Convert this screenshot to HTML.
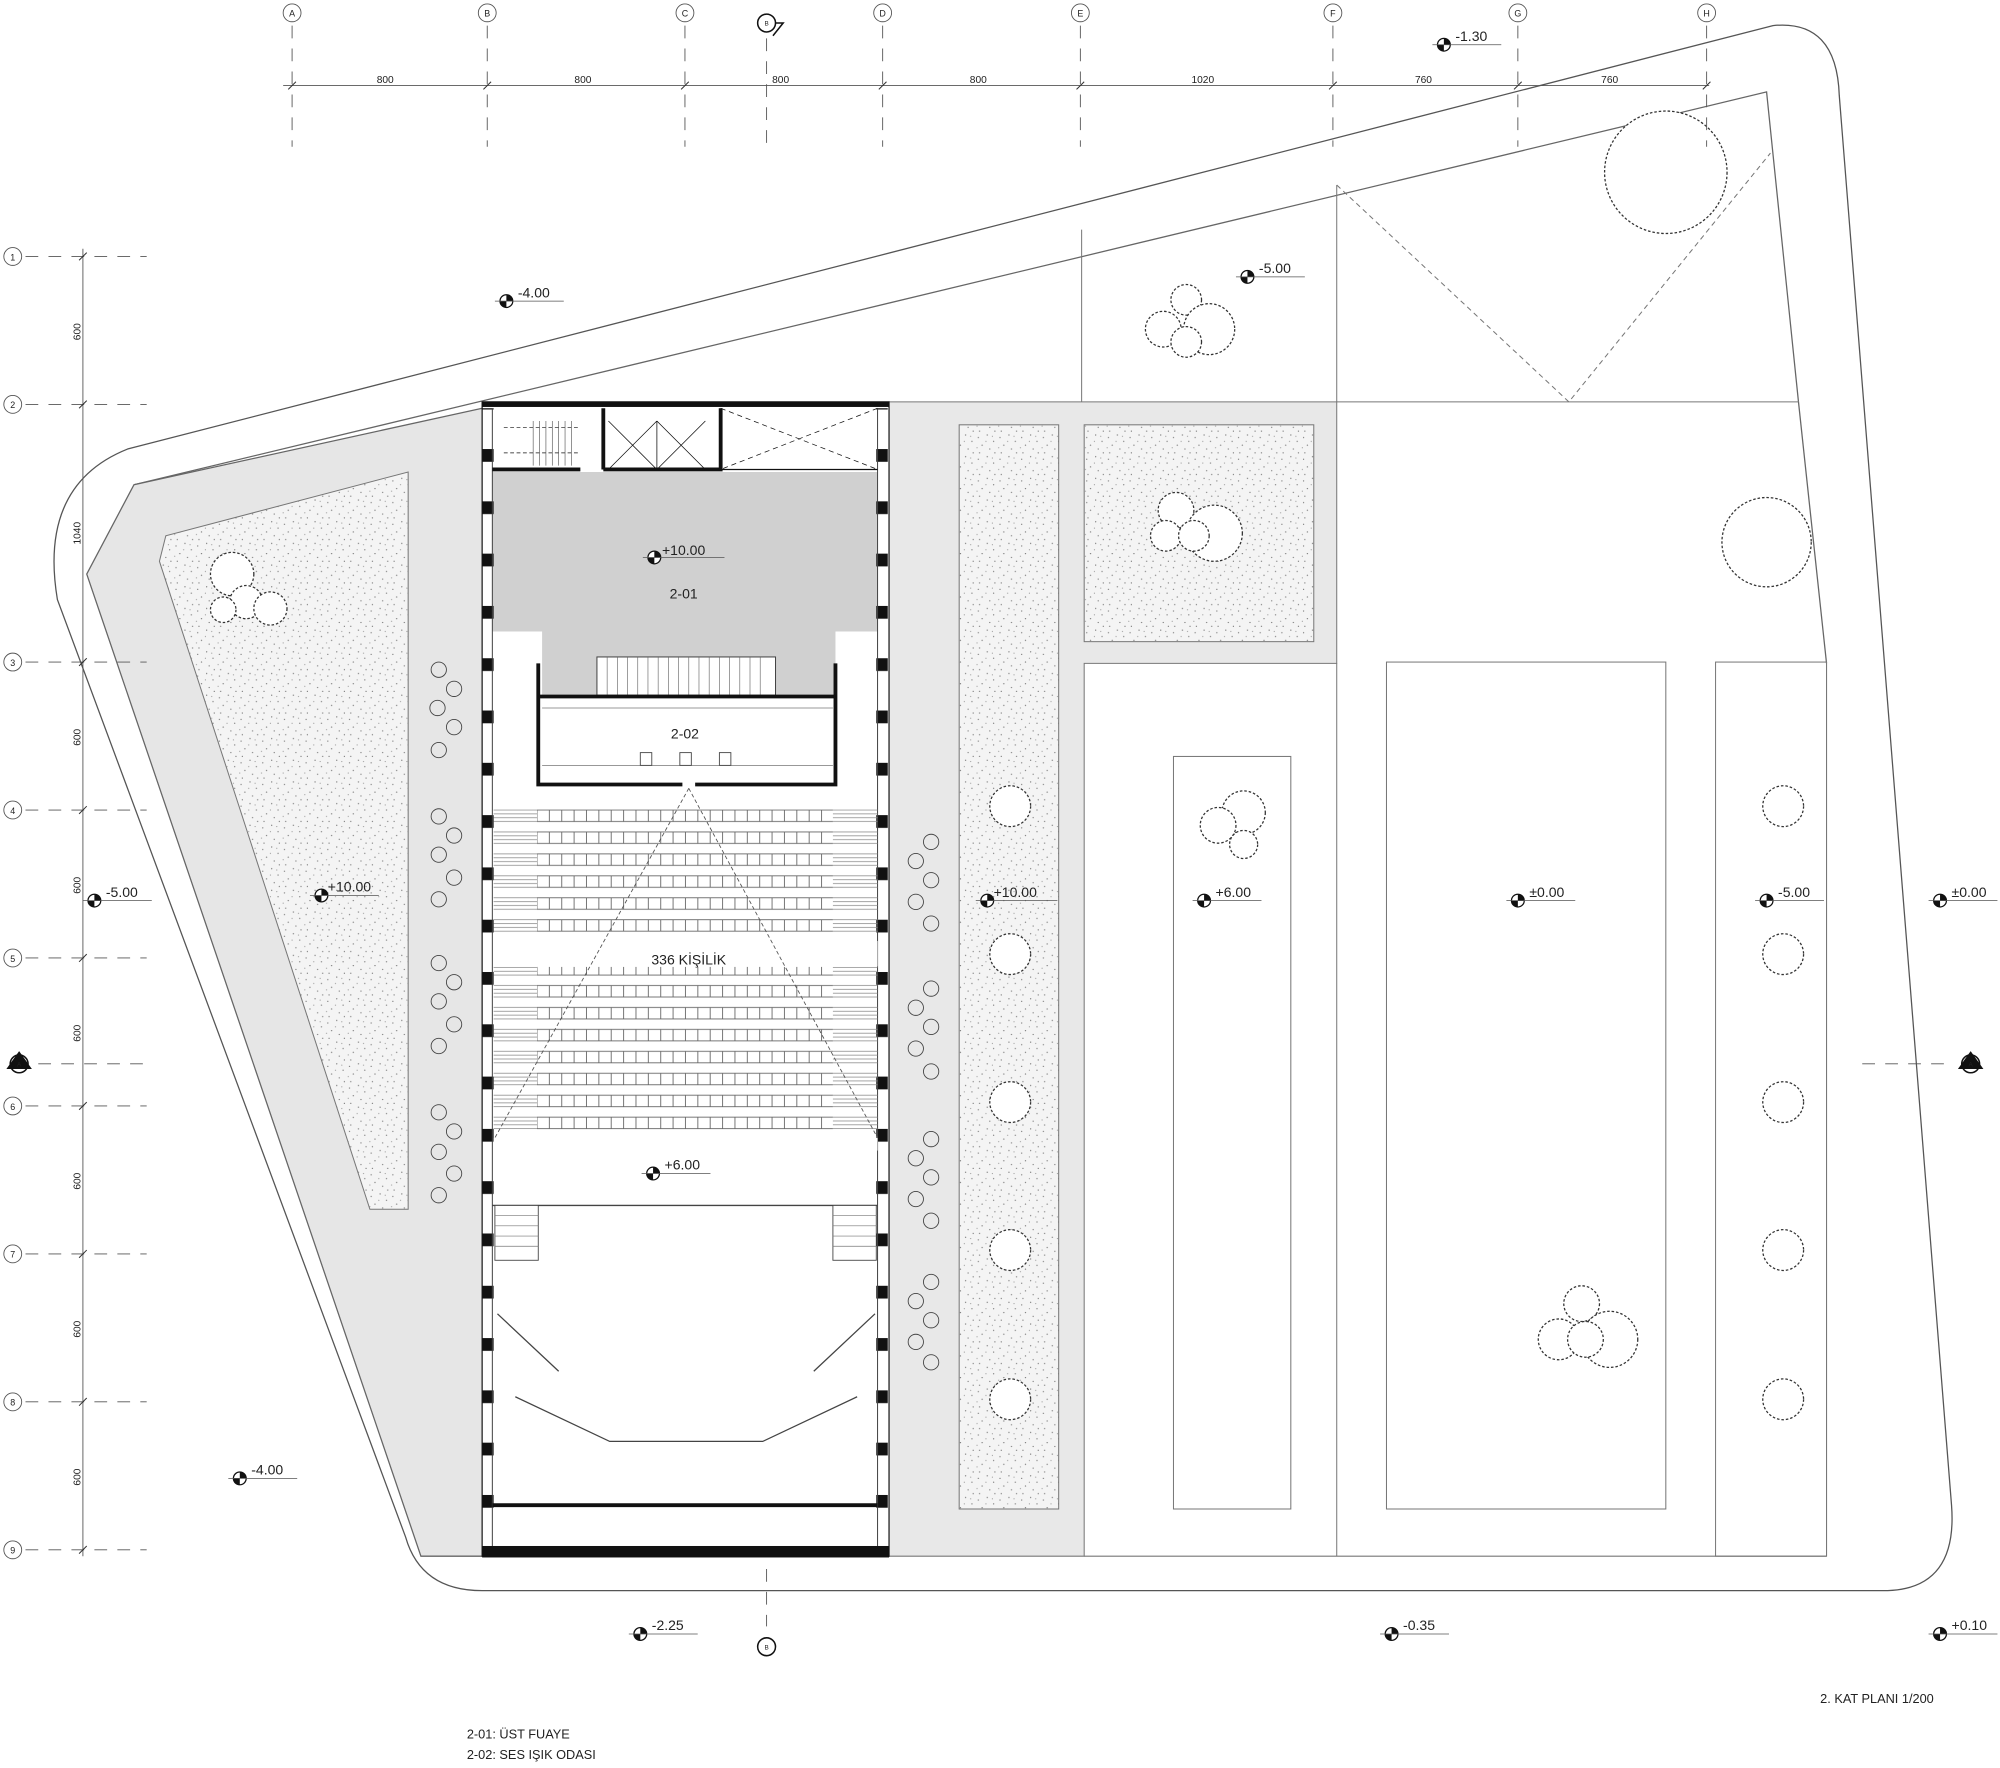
<!DOCTYPE html>
<html><head><meta charset="utf-8"><style>
html,body{margin:0;padding:0;background:#fff}
svg{display:block}
text{font-family:"Liberation Sans",sans-serif;fill:#222}
</style></head><body>
<svg width="2000" height="1768" viewBox="0 0 1568 1386" xmlns="http://www.w3.org/2000/svg">
<defs>
<pattern id="st" width="17" height="17" patternUnits="userSpaceOnUse">
<rect width="17" height="17" fill="#f4f4f4"/>
<g fill="#777"><circle cx="2" cy="3" r=".5"/><circle cx="9" cy="1" r=".5"/><circle cx="14" cy="6" r=".5"/><circle cx="5" cy="9" r=".5"/><circle cx="11" cy="12" r=".5"/><circle cx="3" cy="15" r=".5"/><circle cx="15" cy="15" r=".5"/><circle cx="8" cy="6" r=".4"/><circle cx="13" cy="2" r=".4"/><circle cx="1" cy="11" r=".4"/></g>
</pattern>
<pattern id="pil" width="10" height="41" patternUnits="userSpaceOnUse" x="0" y="24"><rect x="0" y="0" width="10" height="10" fill="#111"/></pattern>
<pattern id="seatg" width="9.7" height="17.2" patternUnits="userSpaceOnUse" x="421" y="634.5"><rect x="0" y="0.5" width="9.7" height="9" fill="none" stroke="#666" stroke-width=".7"/></pattern>
<pattern id="seatl" width="10" height="17.2" patternUnits="userSpaceOnUse" y="634.5"><g stroke="#888" stroke-width=".6"><line x1="0" y1="0.5" x2="10" y2="0.5"/><line x1="0" y1="3.5" x2="10" y2="3.5"/><line x1="0" y1="6.5" x2="10" y2="6.5"/><line x1="0" y1="9.5" x2="10" y2="9.5"/></g></pattern>
</defs>

<!-- site outline -->
<path d="M100,352 L1390,20 Q1440,15 1442,75 L1530,1180 Q1535,1245 1480,1247 L378,1247 Q330,1247 318,1205 L45,470 Q30,380 100,352 Z" fill="none" stroke="#555" stroke-width="1"/>
<path d="M105,380 L1385,72 L1410,315" fill="none" stroke="#666" stroke-width="1"/>
<line x1="1410" y1="315" x2="1432" y2="520" stroke="#666"/>

<!-- left gray region -->
<path d="M105,380 L378,320 L378,1220 L330,1220 L68,450 Z" fill="#e6e6e6" stroke="#666" stroke-width="1"/>
<path d="M125,440 L130,420 L320,370 L320,948 L290,948 Z" fill="url(#st)" stroke="#777" stroke-width=".8"/>

<!-- gray strip right of building -->
<path d="M697,315 L1048,315 L1048,520 L850,520 L850,1220 L697,1220 Z" fill="#e8e8e8" stroke="#777" stroke-width=".8"/>
<rect x="752" y="333" width="78" height="850" fill="url(#st)" stroke="#777" stroke-width=".8"/>
<rect x="850" y="333" width="180" height="170" fill="url(#st)" stroke="#777" stroke-width=".8"/>

<!-- right areas -->
<g fill="none" stroke="#777" stroke-width=".8">
<line x1="1048" y1="315" x2="1410" y2="315"/>
<line x1="848" y1="180" x2="848" y2="315"/>
<line x1="1048" y1="145" x2="1048" y2="315"/>
<line x1="1048" y1="520" x2="1048" y2="1220"/>
<line x1="1432" y1="520" x2="1432" y2="1220"/>
<rect x="920" y="593" width="92" height="590"/>
<rect x="1087" y="519" width="219" height="664"/>
<rect x="1345" y="519" width="87" height="701"/>
<line x1="850" y1="1220" x2="1432" y2="1220"/>
<path d="M1048,145 L1230,315 L1388,120" stroke-dasharray="4,3"/>
</g>

<!-- building -->
<rect x="378" y="315" width="319" height="905" fill="#fff" stroke="#222" stroke-width="1"/>
<path d="M386,370 L688,370 L688,495 L655,495 L655,545 L425,545 L425,495 L386,495 Z" fill="#d0d0d0"/>
<rect x="378" y="315" width="319" height="4" fill="#111"/>
<rect x="378" y="1212" width="319" height="9" fill="#111"/>
<rect x="378" y="320" width="9" height="890" fill="url(#pil)"/>
<rect x="687" y="320" width="9" height="890" fill="url(#pil)"/>
<line x1="386" y1="320" x2="386" y2="1212" stroke="#444" stroke-width=".8"/>
<line x1="688" y1="320" x2="688" y2="1212" stroke="#444" stroke-width=".8"/>
<!-- top rooms -->
<g stroke="#111" fill="none">
<path d="M386,368 L455,368 M473,368 L565,368 L565,320 M473,368 L473,320" stroke-width="3"/>
<line x1="565" y1="368" x2="688" y2="368" stroke-width="1"/>
<path d="M477,330 L515,368 M515,330 L477,368 M515,330 L553,368 M553,330 L515,368 M515,330 L515,368" stroke-width=".6"/>
<path d="M565,320 L688,368 M688,320 L565,368" stroke-width=".6" stroke-dasharray="4,3"/>
<path d="M395,335 L455,335 M395,355 L455,355" stroke-width=".5" stroke-dasharray="3,2"/>
</g>
<g stroke="#555" stroke-width=".5">
<line x1="418" y1="330" x2="418" y2="365"/><line x1="423" y1="330" x2="423" y2="365"/><line x1="428" y1="330" x2="428" y2="365"/><line x1="433" y1="330" x2="433" y2="365"/><line x1="438" y1="330" x2="438" y2="365"/><line x1="443" y1="330" x2="443" y2="365"/><line x1="448" y1="330" x2="448" y2="365"/>
</g>
<!-- stairs in foyer -->
<rect x="468" y="515" width="140" height="30" fill="#fff" stroke="#444" stroke-width=".8"/>
<g stroke="#666" stroke-width=".5">
<line x1="476" y1="515" x2="476" y2="545"/><line x1="484" y1="515" x2="484" y2="545"/><line x1="492" y1="515" x2="492" y2="545"/><line x1="500" y1="515" x2="500" y2="545"/><line x1="508" y1="515" x2="508" y2="545"/><line x1="516" y1="515" x2="516" y2="545"/><line x1="524" y1="515" x2="524" y2="545"/><line x1="532" y1="515" x2="532" y2="545"/><line x1="540" y1="515" x2="540" y2="545"/><line x1="548" y1="515" x2="548" y2="545"/><line x1="556" y1="515" x2="556" y2="545"/><line x1="564" y1="515" x2="564" y2="545"/><line x1="572" y1="515" x2="572" y2="545"/><line x1="580" y1="515" x2="580" y2="545"/><line x1="588" y1="515" x2="588" y2="545"/><line x1="596" y1="515" x2="596" y2="545"/>
</g>
<!-- 2-02 room -->
<path d="M422,520 L422,615 L535,615 M545,615 L655,615 L655,520" stroke="#111" stroke-width="3" fill="none"/>
<line x1="422" y1="546" x2="655" y2="546" stroke="#111" stroke-width="3"/>
<line x1="425" y1="555" x2="653" y2="555" stroke="#777" stroke-width=".6"/>
<line x1="425" y1="600" x2="653" y2="600" stroke="#777" stroke-width=".6"/>
<g fill="#fff" stroke="#444" stroke-width=".7"><rect x="502" y="590" width="9" height="10"/><rect x="533" y="590" width="9" height="10"/><rect x="564" y="590" width="9" height="10"/></g>
<!-- seating -->
<rect x="421" y="634.5" width="232" height="103" fill="url(#seatg)"/>
<rect x="387" y="634.5" width="34" height="103" fill="url(#seatl)"/>
<rect x="653" y="634.5" width="35" height="103" fill="url(#seatl)"/>
<rect x="421" y="737.7" width="232" height="20" fill="#fff"/>
<rect x="387" y="737.7" width="301" height="20" fill="#fff"/>
<rect x="421" y="758" width="232" height="138" fill="url(#seatg)"/>
<rect x="387" y="758" width="34" height="138" fill="url(#seatl)"/>
<rect x="653" y="758" width="35" height="138" fill="url(#seatl)"/>
<rect x="387" y="892" width="301" height="10" fill="#fff"/>
<path d="M540,618 L388,892 M540,618 L688,892" stroke="#555" stroke-width=".7" stroke-dasharray="3,2" fill="none"/>
<!-- stage -->
<line x1="386" y1="945" x2="688" y2="945" stroke="#444" stroke-width="1"/>
<rect x="388" y="945" width="34" height="43" fill="#fff" stroke="#444" stroke-width=".7"/>
<rect x="653" y="945" width="34" height="43" fill="#fff" stroke="#444" stroke-width=".7"/>
<g stroke="#777" stroke-width=".5">
<line x1="388" y1="953" x2="422" y2="953"/><line x1="388" y1="961" x2="422" y2="961"/><line x1="388" y1="969" x2="422" y2="969"/><line x1="388" y1="977" x2="422" y2="977"/>
<line x1="653" y1="953" x2="687" y2="953"/><line x1="653" y1="961" x2="687" y2="961"/><line x1="653" y1="969" x2="687" y2="969"/><line x1="653" y1="977" x2="687" y2="977"/>
</g>
<path d="M390,1030 L438,1075 M686,1030 L638,1075 M404,1095 L478,1130 L598,1130 L672,1095" stroke="#444" stroke-width="1" fill="none"/>
<line x1="386" y1="1180" x2="688" y2="1180" stroke="#111" stroke-width="3"/>

<!-- tables/chairs outside -->
<g fill="none" stroke="#444" stroke-width=".7">
<circle cx="344" cy="525" r="6"/><circle cx="356" cy="540" r="6"/><circle cx="343" cy="555" r="6"/><circle cx="356" cy="570" r="6"/><circle cx="344" cy="588" r="6"/>
<circle cx="344" cy="640" r="6"/><circle cx="356" cy="655" r="6"/><circle cx="344" cy="670" r="6"/><circle cx="356" cy="688" r="6"/><circle cx="344" cy="705" r="6"/>
<circle cx="344" cy="755" r="6"/><circle cx="356" cy="770" r="6"/><circle cx="344" cy="785" r="6"/><circle cx="356" cy="803" r="6"/><circle cx="344" cy="820" r="6"/>
<circle cx="344" cy="872" r="6"/><circle cx="356" cy="887" r="6"/><circle cx="344" cy="903" r="6"/><circle cx="356" cy="920" r="6"/><circle cx="344" cy="937" r="6"/>
<circle cx="730" cy="660" r="6"/><circle cx="718" cy="675" r="6"/><circle cx="730" cy="690" r="6"/><circle cx="718" cy="707" r="6"/><circle cx="730" cy="724" r="6"/>
<circle cx="730" cy="775" r="6"/><circle cx="718" cy="790" r="6"/><circle cx="730" cy="805" r="6"/><circle cx="718" cy="822" r="6"/><circle cx="730" cy="840" r="6"/>
<circle cx="730" cy="893" r="6"/><circle cx="718" cy="908" r="6"/><circle cx="730" cy="923" r="6"/><circle cx="718" cy="940" r="6"/><circle cx="730" cy="957" r="6"/>
<circle cx="730" cy="1005" r="6"/><circle cx="718" cy="1020" r="6"/><circle cx="730" cy="1035" r="6"/><circle cx="718" cy="1052" r="6"/><circle cx="730" cy="1068" r="6"/>
</g>

<!-- trees -->
<g fill="#fff" stroke="#333" stroke-width="1" stroke-dasharray="2,1.5">
<circle cx="182" cy="450" r="17"/><circle cx="193" cy="472" r="13"/><circle cx="212" cy="477" r="13"/><circle cx="175" cy="478" r="10"/>
<circle cx="930" cy="235" r="12"/><circle cx="912" cy="258" r="14"/><circle cx="948" cy="258" r="20"/><circle cx="930" cy="268" r="12"/>
<circle cx="922" cy="400" r="14"/><circle cx="914" cy="420" r="12"/><circle cx="952" cy="418" r="22"/><circle cx="936" cy="420" r="12"/>
<circle cx="1306" cy="135" r="48"/>
<circle cx="1385" cy="425" r="35"/>
<circle cx="975" cy="637" r="17"/><circle cx="955" cy="647" r="14"/><circle cx="975" cy="662" r="11"/>
<circle cx="792" cy="632" r="16"/><circle cx="792" cy="748" r="16"/><circle cx="792" cy="864" r="16"/><circle cx="792" cy="980" r="16"/><circle cx="792" cy="1097" r="16"/>
<circle cx="1398" cy="632" r="16"/><circle cx="1398" cy="748" r="16"/><circle cx="1398" cy="864" r="16"/><circle cx="1398" cy="980" r="16"/><circle cx="1398" cy="1097" r="16"/>
<circle cx="1240" cy="1022" r="14"/><circle cx="1222" cy="1050" r="16"/><circle cx="1262" cy="1050" r="22"/><circle cx="1243" cy="1050" r="14"/>
</g>

<!-- grid top -->
<g stroke="#555" stroke-width=".7" fill="none">
<line x1="222" y1="67" x2="1340" y2="67"/>
<g stroke-dasharray="10,8">
<line x1="229" y1="20" x2="229" y2="115"/><line x1="382" y1="20" x2="382" y2="115"/><line x1="537" y1="20" x2="537" y2="115"/><line x1="692" y1="20" x2="692" y2="115"/><line x1="847" y1="20" x2="847" y2="115"/><line x1="1045" y1="20" x2="1045" y2="115"/><line x1="1190" y1="20" x2="1190" y2="115"/><line x1="1338" y1="20" x2="1338" y2="115"/>
<line x1="601" y1="30" x2="601" y2="115"/><line x1="601" y1="1230" x2="601" y2="1275"/>
<line x1="20" y1="201" x2="115" y2="201"/><line x1="20" y1="317" x2="115" y2="317"/><line x1="20" y1="519" x2="115" y2="519"/><line x1="20" y1="635" x2="115" y2="635"/><line x1="20" y1="751" x2="115" y2="751"/><line x1="20" y1="867" x2="115" y2="867"/><line x1="20" y1="983" x2="115" y2="983"/><line x1="20" y1="1099" x2="115" y2="1099"/><line x1="20" y1="1215" x2="115" y2="1215"/>
<line x1="30" y1="834" x2="115" y2="834"/><line x1="1460" y1="834" x2="1530" y2="834"/>
</g>
<line x1="65" y1="195" x2="65" y2="1220"/>
<circle cx="229" cy="10" r="7"/><circle cx="382" cy="10" r="7"/><circle cx="537" cy="10" r="7"/><circle cx="692" cy="10" r="7"/><circle cx="847" cy="10" r="7"/><circle cx="1045" cy="10" r="7"/><circle cx="1190" cy="10" r="7"/><circle cx="1338" cy="10" r="7"/>
<circle cx="10" cy="201" r="7"/><circle cx="10" cy="317" r="7"/><circle cx="10" cy="519" r="7"/><circle cx="10" cy="635" r="7"/><circle cx="10" cy="751" r="7"/><circle cx="10" cy="867" r="7"/><circle cx="10" cy="983" r="7"/><circle cx="10" cy="1099" r="7"/><circle cx="10" cy="1215" r="7"/>
</g>
<g stroke="#333" stroke-width=".8">
<line x1="226" y1="70" x2="232" y2="64"/><line x1="379" y1="70" x2="385" y2="64"/><line x1="534" y1="70" x2="540" y2="64"/><line x1="689" y1="70" x2="695" y2="64"/><line x1="844" y1="70" x2="850" y2="64"/><line x1="1042" y1="70" x2="1048" y2="64"/><line x1="1187" y1="70" x2="1193" y2="64"/><line x1="1335" y1="70" x2="1341" y2="64"/>
<line x1="62" y1="204" x2="68" y2="198"/><line x1="62" y1="320" x2="68" y2="314"/><line x1="62" y1="522" x2="68" y2="516"/><line x1="62" y1="638" x2="68" y2="632"/><line x1="62" y1="754" x2="68" y2="748"/><line x1="62" y1="870" x2="68" y2="864"/><line x1="62" y1="986" x2="68" y2="980"/><line x1="62" y1="1102" x2="68" y2="1096"/><line x1="62" y1="1218" x2="68" y2="1212"/>
</g>
<g font-size="7" text-anchor="middle">
<text x="229" y="13">A</text><text x="382" y="13">B</text><text x="537" y="13">C</text><text x="692" y="13">D</text><text x="847" y="13">E</text><text x="1045" y="13">F</text><text x="1190" y="13">G</text><text x="1338" y="13">H</text>
<text x="10" y="204">1</text><text x="10" y="320">2</text><text x="10" y="522">3</text><text x="10" y="638">4</text><text x="10" y="754">5</text><text x="10" y="870">6</text><text x="10" y="986">7</text><text x="10" y="1102">8</text><text x="10" y="1218">9</text>
</g>
<g font-size="8" text-anchor="middle">
<text x="302" y="65">800</text><text x="457" y="65">800</text><text x="612" y="65">800</text><text x="767" y="65">800</text><text x="943" y="65">1020</text><text x="1116" y="65">760</text><text x="1262" y="65">760</text>
<g transform="rotate(-90)"><text x="-260" y="63">600</text><text x="-418" y="63">1040</text><text x="-578" y="63">600</text><text x="-694" y="63">600</text><text x="-810" y="63">600</text><text x="-926" y="63">600</text><text x="-1042" y="63">600</text><text x="-1158" y="63">600</text></g>
</g>
<!-- section markers -->
<g fill="#fff" stroke="#111" stroke-width="1.2">
<circle cx="601" cy="18" r="7"/><path d="M608,18 L614,18 L606,28" fill="none"/>
<circle cx="601" cy="1291" r="7"/>
<circle cx="15" cy="834" r="7"/><circle cx="1545" cy="834" r="7"/>
</g>
<path d="M5,838 L15,824 L25,838 Z M1535,838 L1545,824 L1555,838 Z" fill="#111"/>
<g font-size="5" text-anchor="middle"><text x="601" y="20">B</text><text x="601" y="1293">B</text><text x="15" y="836" fill="#fff">A</text><text x="1545" y="836" fill="#fff">A</text></g>

<!-- elevation markers -->
<g font-size="11">
<g transform="translate(397,236)"><circle r="5" fill="#fff" stroke="#111"/><path d="M0,0 L0,-5 A5,5 0 0 1 5,0 Z M0,0 L0,5 A5,5 0 0 1 -5,0 Z" fill="#111"/><line x1="-9" y1="0" x2="45" y2="0" stroke="#555" stroke-width=".6"/><text x="9" y="-3">-4.00</text></g>
<g transform="translate(978,217)"><circle r="5" fill="#fff" stroke="#111"/><path d="M0,0 L0,-5 A5,5 0 0 1 5,0 Z M0,0 L0,5 A5,5 0 0 1 -5,0 Z" fill="#111"/><line x1="-9" y1="0" x2="45" y2="0" stroke="#555" stroke-width=".6"/><text x="9" y="-3">-5.00</text></g>
<g transform="translate(1132,35)"><circle r="5" fill="#fff" stroke="#111"/><path d="M0,0 L0,-5 A5,5 0 0 1 5,0 Z M0,0 L0,5 A5,5 0 0 1 -5,0 Z" fill="#111"/><line x1="-9" y1="0" x2="45" y2="0" stroke="#555" stroke-width=".6"/><text x="9" y="-3">-1.30</text></g>
<g transform="translate(513,437)"><circle r="5" fill="#fff" stroke="#111"/><path d="M0,0 L0,-5 A5,5 0 0 1 5,0 Z M0,0 L0,5 A5,5 0 0 1 -5,0 Z" fill="#111"/><line x1="-9" y1="0" x2="55" y2="0" stroke="#555" stroke-width=".6"/><text x="6" y="-2">+10.00</text></g>
<g transform="translate(74,706)"><circle r="5" fill="#fff" stroke="#111"/><path d="M0,0 L0,-5 A5,5 0 0 1 5,0 Z M0,0 L0,5 A5,5 0 0 1 -5,0 Z" fill="#111"/><line x1="-9" y1="0" x2="45" y2="0" stroke="#555" stroke-width=".6"/><text x="9" y="-3">-5.00</text></g>
<g transform="translate(252,702)"><circle r="5" fill="#fff" stroke="#111"/><path d="M0,0 L0,-5 A5,5 0 0 1 5,0 Z M0,0 L0,5 A5,5 0 0 1 -5,0 Z" fill="#111"/><line x1="-9" y1="0" x2="45" y2="0" stroke="#555" stroke-width=".6"/><text x="5" y="-3">+10.00</text></g>
<g transform="translate(774,706)"><circle r="5" fill="#fff" stroke="#111"/><path d="M0,0 L0,-5 A5,5 0 0 1 5,0 Z M0,0 L0,5 A5,5 0 0 1 -5,0 Z" fill="#111"/><line x1="-9" y1="0" x2="55" y2="0" stroke="#555" stroke-width=".6"/><text x="5" y="-3">+10.00</text></g>
<g transform="translate(944,706)"><circle r="5" fill="#fff" stroke="#111"/><path d="M0,0 L0,-5 A5,5 0 0 1 5,0 Z M0,0 L0,5 A5,5 0 0 1 -5,0 Z" fill="#111"/><line x1="-9" y1="0" x2="45" y2="0" stroke="#555" stroke-width=".6"/><text x="9" y="-3">+6.00</text></g>
<g transform="translate(1190,706)"><circle r="5" fill="#fff" stroke="#111"/><path d="M0,0 L0,-5 A5,5 0 0 1 5,0 Z M0,0 L0,5 A5,5 0 0 1 -5,0 Z" fill="#111"/><line x1="-9" y1="0" x2="45" y2="0" stroke="#555" stroke-width=".6"/><text x="9" y="-3">±0.00</text></g>
<g transform="translate(1385,706)"><circle r="5" fill="#fff" stroke="#111"/><path d="M0,0 L0,-5 A5,5 0 0 1 5,0 Z M0,0 L0,5 A5,5 0 0 1 -5,0 Z" fill="#111"/><line x1="-9" y1="0" x2="45" y2="0" stroke="#555" stroke-width=".6"/><text x="9" y="-3">-5.00</text></g>
<g transform="translate(1521,706)"><circle r="5" fill="#fff" stroke="#111"/><path d="M0,0 L0,-5 A5,5 0 0 1 5,0 Z M0,0 L0,5 A5,5 0 0 1 -5,0 Z" fill="#111"/><line x1="-9" y1="0" x2="45" y2="0" stroke="#555" stroke-width=".6"/><text x="9" y="-3">±0.00</text></g>
<g transform="translate(512,920)"><circle r="5" fill="#fff" stroke="#111"/><path d="M0,0 L0,-5 A5,5 0 0 1 5,0 Z M0,0 L0,5 A5,5 0 0 1 -5,0 Z" fill="#111"/><line x1="-9" y1="0" x2="45" y2="0" stroke="#555" stroke-width=".6"/><text x="9" y="-3">+6.00</text></g>
<g transform="translate(188,1159)"><circle r="5" fill="#fff" stroke="#111"/><path d="M0,0 L0,-5 A5,5 0 0 1 5,0 Z M0,0 L0,5 A5,5 0 0 1 -5,0 Z" fill="#111"/><line x1="-9" y1="0" x2="45" y2="0" stroke="#555" stroke-width=".6"/><text x="9" y="-3">-4.00</text></g>
<g transform="translate(502,1281)"><circle r="5" fill="#fff" stroke="#111"/><path d="M0,0 L0,-5 A5,5 0 0 1 5,0 Z M0,0 L0,5 A5,5 0 0 1 -5,0 Z" fill="#111"/><line x1="-9" y1="0" x2="45" y2="0" stroke="#555" stroke-width=".6"/><text x="9" y="-3">-2.25</text></g>
<g transform="translate(1091,1281)"><circle r="5" fill="#fff" stroke="#111"/><path d="M0,0 L0,-5 A5,5 0 0 1 5,0 Z M0,0 L0,5 A5,5 0 0 1 -5,0 Z" fill="#111"/><line x1="-9" y1="0" x2="45" y2="0" stroke="#555" stroke-width=".6"/><text x="9" y="-3">-0.35</text></g>
<g transform="translate(1521,1281)"><circle r="5" fill="#fff" stroke="#111"/><path d="M0,0 L0,-5 A5,5 0 0 1 5,0 Z M0,0 L0,5 A5,5 0 0 1 -5,0 Z" fill="#111"/><line x1="-9" y1="0" x2="45" y2="0" stroke="#555" stroke-width=".6"/><text x="9" y="-3">+0.10</text></g>
</g>

<!-- labels -->
<g font-size="11" text-anchor="middle">
<text x="536" y="469">2-01</text>
<text x="537" y="579">2-02</text>
<text x="540" y="756">336 KİŞİLİK</text>
</g>
<g font-size="10">
<text x="1427" y="1335">2. KAT PLANI 1/200</text>
<text x="366" y="1363">2-01: ÜST FUAYE</text>
<text x="366" y="1379">2-02: SES IŞIK ODASI</text>
</g>
</svg>
</body></html>
